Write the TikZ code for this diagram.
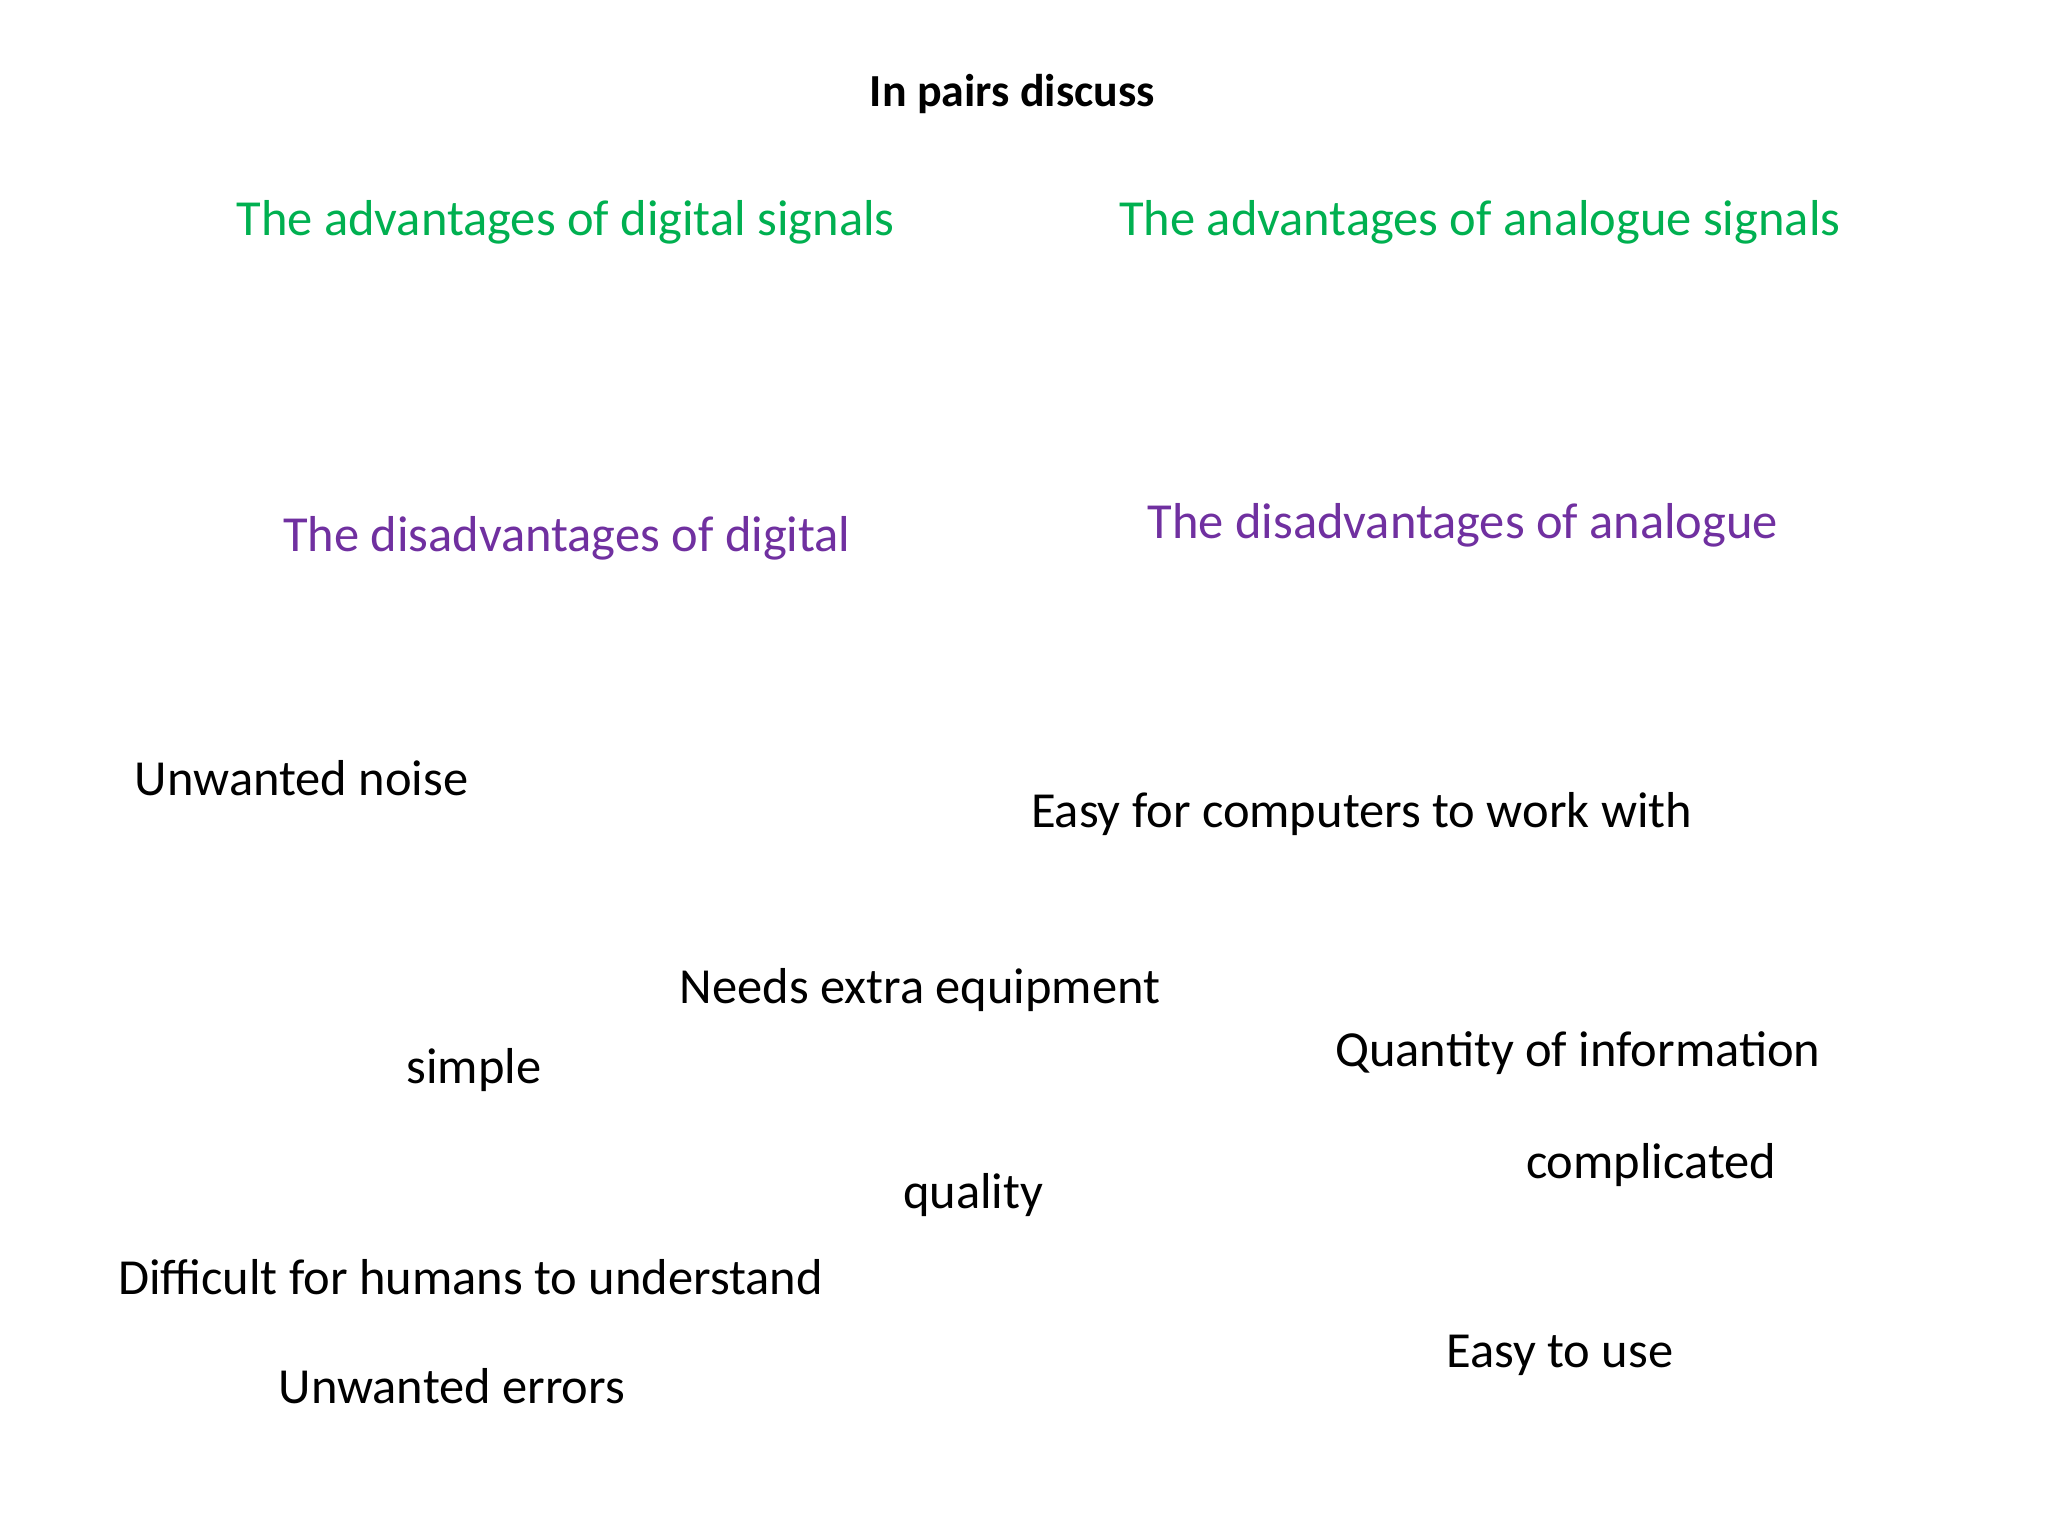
\documentclass[tikz,border=0pt]{standalone}
\usepackage{fontspec}
\setmainfont{Carlito}
\definecolor{advg}{HTML}{00B050}
\definecolor{disp}{HTML}{7030A0}
\begin{document}
\begin{tikzpicture}[x=0.02cm,y=-0.02cm,
  txt/.style={inner sep=0pt,font=\fontsize{22}{26}\selectfont},
  word/.style={txt,anchor=west}]
\useasboundingbox (0,0) rectangle (1568,1176);
\node[inner sep=0pt,font=\fontsize{20}{24}\selectfont\bfseries] (title) at (775,72) {In pairs discuss};
\node[txt,text=advg] (ad) at (433,170) {The advantages of digital signals};
\node[txt,text=advg] (aa) at (1133,170) {The advantages of analogue signals};
\node[txt,text=disp] (dd) at (434,412) {The disadvantages of digital};
\node[txt,text=disp] (da) at (1120,402) {The disadvantages of analogue};
\node[word] (w1) at (103,596) {Unwanted noise};
\node[word] (w2) at (789,623) {Easy for computers to work with};
\node[word] (w3) at (520,758) {Needs extra equipment};
\node[word] (w4) at (311,819) {simple};
\node[word] (w5) at (1022,806) {Quantity of information};
\node[word] (w6) at (1168,892) {complicated};
\node[word] (w7) at (691,915) {quality};
\node[word] (w8) at (90,978) {Difficult for humans to understand};
\node[word] (w9) at (1107,1038) {Easy to use};
\node[word] (w10) at (213,1061) {Unwanted errors};
\end{tikzpicture}
\end{document}
